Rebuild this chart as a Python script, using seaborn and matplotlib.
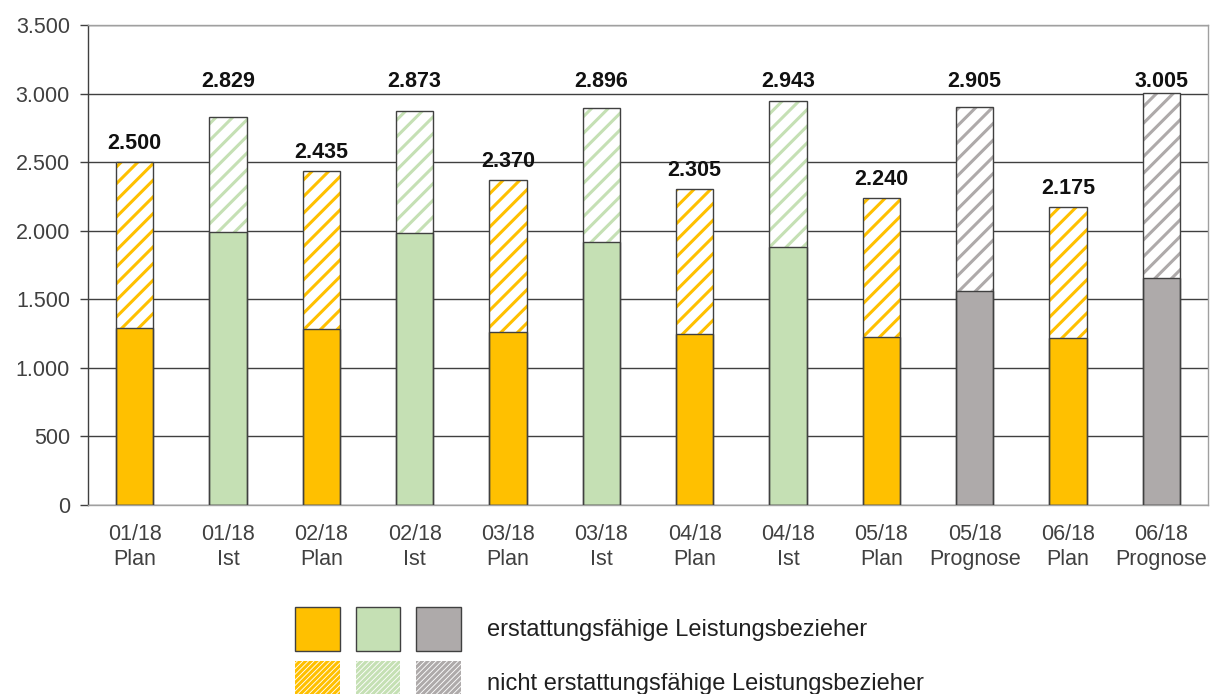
import matplotlib
matplotlib.use("Agg")
import matplotlib.pyplot as plt
from matplotlib.patches import Patch, Rectangle
from matplotlib.legend_handler import HandlerTuple
from matplotlib.ticker import FuncFormatter
import seaborn as sns
import pandas as pd

# ---- data ----
categories = ["01/18\nPlan", "01/18\nIst", "02/18\nPlan", "02/18\nIst", "03/18\nPlan",
              "03/18\nIst", "04/18\nPlan", "04/18\nIst", "05/18\nPlan", "05/18\nPrognose",
              "06/18\nPlan", "06/18\nPrognose"]
kinds = ["Plan", "Ist", "Plan", "Ist", "Plan", "Ist", "Plan", "Ist", "Plan", "Prognose",
         "Plan", "Prognose"]
totals = [2500, 2829, 2435, 2873, 2370, 2896, 2305, 2943, 2240, 2905, 2175, 3005]
erstattungsfaehig = [1290, 1990, 1280, 1980, 1262, 1918, 1247, 1882, 1225, 1563, 1220, 1656]
yticks = [0, 500, 1000, 1500, 2000, 2500, 3000, 3500]
legend_labels = ["erstattungsfähige Leistungsbezieher",
                 "nicht erstattungsfähige Leistungsbezieher"]

kind_colors = {"Plan": "#FFC000", "Ist": "#C5E0B4", "Prognose": "#AEAAAA"}

sns.set_theme(style="white")
plt.rcParams["font.family"] = ["Liberation Sans", "DejaVu Sans"]
plt.rcParams["hatch.linewidth"] = 2.2

df = pd.DataFrame({"cat": categories, "kind": kinds, "total": totals,
                   "bottom": erstattungsfaehig})
palette = [kind_colors[k] for k in kinds]

fig = plt.figure(figsize=(12.13, 6.94), dpi=100)
ax = fig.add_axes([88 / 1213, 1 - 505 / 694, (1208 - 88) / 1213, (505 - 25) / 694])

EDGE = "#404040"
W = 0.4
FS = 15.5

ax.set_axisbelow(True)
ax.yaxis.grid(True, color="#404040", linewidth=1.0)

# totals (hatched part)
n0 = len(ax.patches)
sns.barplot(data=df, x="cat", y="total", hue="cat", palette=palette, legend=False,
            width=W, ax=ax, saturation=1)
tot_patches = ax.patches[n0:]
for p, k in zip(tot_patches, kinds):
    p.set_facecolor("white")
    p.set_edgecolor(kind_colors[k])
    p.set_hatch("//")
    p.set_linewidth(0)

# bottom (solid part)
n1 = len(ax.patches)
sns.barplot(data=df, x="cat", y="bottom", hue="cat", palette=palette, legend=False,
            width=W, ax=ax, saturation=1)
bot_patches = ax.patches[n1:]
for p in bot_patches:
    p.set_edgecolor(EDGE)
    p.set_linewidth(1.0)

# outlines around the hatched part
for p in tot_patches:
    ax.add_patch(Rectangle(p.get_xy(), p.get_width(), p.get_height(), fill=False,
                           edgecolor=EDGE, linewidth=1.0, zorder=3))

# value labels
for i, (t, k) in enumerate(zip(totals, kinds)):
    y = t + 95 if k == "Plan" else 3050
    ax.text(i, y, f"{t:,}".replace(",", "."), ha="center", va="baseline",
            fontsize=FS, fontweight="bold", color="#111111")

ax.set_ylim(0, 3500)
ax.set_xlim(-0.5, len(categories) - 0.5)
ax.set_yticks(yticks)
ax.yaxis.set_major_formatter(FuncFormatter(lambda v, _: f"{int(v):,}".replace(",", ".")))
ax.set_xlabel("")
ax.set_ylabel("")
ax.tick_params(axis="y", which="major", left=True, length=6, width=1, color="#404040",
               labelsize=FS, labelcolor="#404040", pad=7)
ax.tick_params(axis="x", bottom=False, labelsize=FS, labelcolor="#404040", pad=8)
for lbl in ax.get_xticklabels():
    lbl.set_linespacing(1.25)

ax.spines["left"].set_color("#404040")
ax.spines["left"].set_linewidth(1.0)
for s in ["top", "right", "bottom"]:
    ax.spines[s].set_color("#A0A0A0")
    ax.spines[s].set_linewidth(1.0)

# legend
LFS = 17
solid = tuple(Patch(facecolor=kind_colors[k], edgecolor=EDGE, linewidth=1.0)
              for k in ["Plan", "Ist", "Prognose"])
hatched = tuple(Patch(facecolor="white", edgecolor=kind_colors[k], hatch="//////",
                      linewidth=0) for k in ["Plan", "Ist", "Prognose"])
leg = fig.legend([solid, hatched], legend_labels,
                 handler_map={tuple: HandlerTuple(ndivide=None, pad=0.68)},
                 loc="upper left", bbox_to_anchor=(295 / 1213, 1 - 607 / 694),
                 frameon=False, fontsize=LFS, handlelength=7.03, handleheight=2.49,
                 handletextpad=1.1, labelspacing=0.42, borderpad=0, borderaxespad=0)
for t in leg.get_texts():
    t.set_color("#202020")

fig.savefig("out.png", dpi=100)
